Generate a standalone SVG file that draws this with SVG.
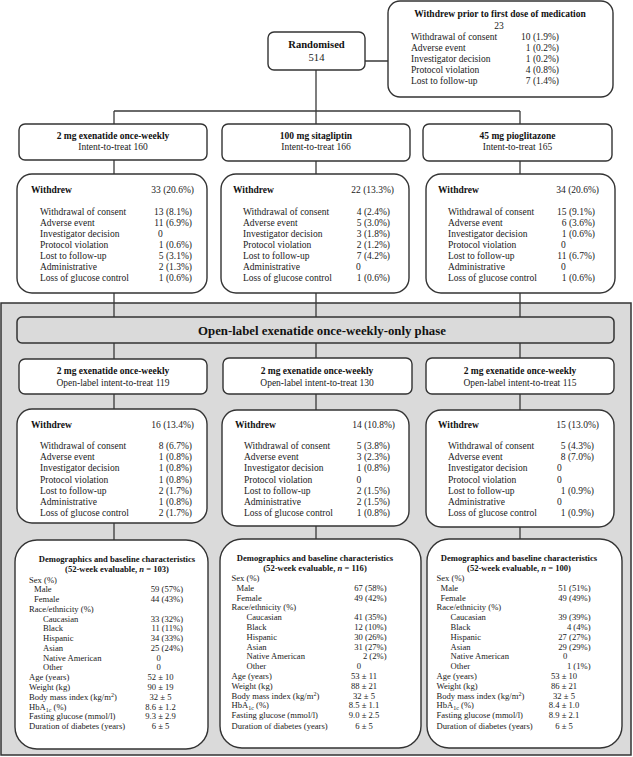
<svg xmlns="http://www.w3.org/2000/svg" width="633" height="757" viewBox="0 0 633 757">
<style>
.bx{fill:#fff;stroke:#333;stroke-width:1.4}
.gr{fill:#dadada;stroke:#333;stroke-width:1.5}
.ln{stroke:#3a3a3a;stroke-width:1.3;fill:none}
text{font-family:"Liberation Serif","Times New Roman",serif;font-size:9.5px;fill:#1a1a1a}
.bd{font-weight:bold;fill:#111}
.d{font-size:8.6px}
.m{text-anchor:middle}
.e{text-anchor:end}
.ban{font-size:12.8px}
</style>
<rect width="633" height="757" fill="#fff"/>
<rect class="gr" x="1" y="303" width="630" height="452"/>
<g id="connectors">
<path class="ln" d="M365 61H388M316 70V124M114 111H520M114 111V124M520 111V124M114 160V174M316 161V174M520 161V174M114 293V317M316 293V317M520 293V317M114 343V359M316 343V358M520 343V358M114 394V409M316 394V410M520 394V410M114 523V540M316 526V539M520 527V539"/>
</g>
<g id="randomised">
<rect class="bx" x="268" y="32" width="97" height="38" rx="6"/>
<text class="bd m" x="316.5" y="48" style="font-size:10.6px">Randomised</text>
<text class="m" x="316.5" y="61" style="font-size:10.6px">514</text>
</g>
<g id="withdrew-prior">
<rect class="bx" x="388" y="1" width="225" height="96" rx="12"/>
<text class="bd m" x="500" y="17">Withdrew prior to first dose of medication</text>
<text class="m" x="499" y="29">23</text>
<text x="411" y="40">Withdrawal of consent</text><text class="e" x="559" y="40">10 (1.9%)</text>
<text x="411" y="51">Adverse event</text><text class="e" x="559" y="51">1 (0.2%)</text>
<text x="411" y="62">Investigator decision</text><text class="e" x="559" y="62">1 (0.2%)</text>
<text x="411" y="73">Protocol violation</text><text class="e" x="559" y="73">4 (0.8%)</text>
<text x="411" y="84">Lost to follow-up</text><text class="e" x="559" y="84">7 (1.4%)</text>
</g>
<g id="arm1">
<rect class="bx" x="19" y="124" width="188" height="36" rx="6"/>
<text class="bd m" x="113" y="138.5">2 mg exenatide once-weekly</text>
<text class="m" x="113" y="150">Intent-to-treat 160</text>
</g>
<g id="arm2">
<rect class="bx" x="222" y="124" width="188" height="37" rx="6"/>
<text class="bd m" x="316" y="138.5">100 mg sitagliptin</text>
<text class="m" x="316" y="150">Intent-to-treat 166</text>
</g>
<g id="arm3">
<rect class="bx" x="423" y="124" width="189" height="37" rx="6"/>
<text class="bd m" x="517.5" y="138.5">45 mg pioglitazone</text>
<text class="m" x="517.5" y="150">Intent-to-treat 165</text>
</g>
<g id="withdrew1">
<rect class="bx" x="17" y="174" width="190" height="119" rx="15"/>
<text class="bd" x="31" y="192.5">Withdrew</text><text class="e" x="194" y="192.5">33 (20.6%)</text>
<text x="40" y="215">Withdrawal of consent</text><text class="e" x="192" y="215">13 (8.1%)</text>
<text x="40" y="226">Adverse event</text><text class="e" x="192" y="226">11 (6.9%)</text>
<text x="40" y="237">Investigator decision</text><text x="158" y="237">0</text>
<text x="40" y="248">Protocol violation</text><text class="e" x="192" y="248">1 (0.6%)</text>
<text x="40" y="259">Lost to follow-up</text><text class="e" x="192" y="259">5 (3.1%)</text>
<text x="40" y="270">Administrative</text><text class="e" x="192" y="270">2 (1.3%)</text>
<text x="40" y="281.3">Loss of glucose control</text><text class="e" x="192" y="281.3">1 (0.6%)</text>
</g>
<g id="withdrew2">
<rect class="bx" x="221" y="174" width="188" height="119" rx="15"/>
<text class="bd" x="233" y="192.5">Withdrew</text><text class="e" x="394" y="192.5">22 (13.3%)</text>
<text x="243" y="215">Withdrawal of consent</text><text class="e" x="390" y="215">4 (2.4%)</text>
<text x="243" y="226">Adverse event</text><text class="e" x="390" y="226">5 (3.0%)</text>
<text x="243" y="237">Investigator decision</text><text class="e" x="390" y="237">3 (1.8%)</text>
<text x="243" y="248">Protocol violation</text><text class="e" x="390" y="248">2 (1.2%)</text>
<text x="243" y="259">Lost to follow-up</text><text class="e" x="390" y="259">7 (4.2%)</text>
<text x="243" y="270">Administrative</text><text x="356" y="270">0</text>
<text x="243" y="281.3">Loss of glucose control</text><text class="e" x="390" y="281.3">1 (0.6%)</text>
</g>
<g id="withdrew3">
<rect class="bx" x="426" y="174" width="189" height="119" rx="15"/>
<text class="bd" x="438" y="192.5">Withdrew</text><text class="e" x="599" y="192.5">34 (20.6%)</text>
<text x="448" y="215">Withdrawal of consent</text><text class="e" x="595" y="215">15 (9.1%)</text>
<text x="448" y="226">Adverse event</text><text class="e" x="595" y="226">6 (3.6%)</text>
<text x="448" y="237">Investigator decision</text><text class="e" x="595" y="237">1 (0.6%)</text>
<text x="448" y="248">Protocol violation</text><text x="561" y="248">0</text>
<text x="448" y="259">Lost to follow-up</text><text class="e" x="595" y="259">11 (6.7%)</text>
<text x="448" y="270">Administrative</text><text x="561" y="270">0</text>
<text x="448" y="281.3">Loss of glucose control</text><text class="e" x="595" y="281.3">1 (0.6%)</text>
</g>
<g id="phase-banner">
<rect class="gr" x="17" y="317" width="597" height="26" rx="5"/>
<text class="bd m ban" x="322" y="334.5">Open-label exenatide once-weekly-only phase</text>
</g>
<g id="ol-arm1">
<rect class="bx" x="19" y="359" width="188" height="35" rx="6"/>
<text class="bd m" x="113" y="373.5">2 mg exenatide once-weekly</text>
<text class="m" x="113" y="385.5">Open-label intent-to-treat 119</text>
</g>
<g id="ol-arm2">
<rect class="bx" x="223" y="358" width="189" height="36" rx="6"/>
<text class="bd m" x="317" y="373.5">2 mg exenatide once-weekly</text>
<text class="m" x="317" y="385.5">Open-label intent-to-treat 130</text>
</g>
<g id="ol-arm3">
<rect class="bx" x="426" y="358" width="188" height="36" rx="6"/>
<text class="bd m" x="520" y="373.5">2 mg exenatide once-weekly</text>
<text class="m" x="520" y="385.5">Open-label intent-to-treat 115</text>
</g>
<g id="ol-withdrew1">
<rect class="bx" x="17" y="409" width="190" height="114" rx="15"/>
<text class="bd" x="31" y="427.5">Withdrew</text><text class="e" x="194" y="427.5">16 (13.4%)</text>
<text x="40" y="449">Withdrawal of consent</text><text class="e" x="192" y="449">8 (6.7%)</text>
<text x="40" y="460.2">Adverse event</text><text class="e" x="192" y="460.2">1 (0.8%)</text>
<text x="40" y="471.4">Investigator decision</text><text class="e" x="192" y="471.4">1 (0.8%)</text>
<text x="40" y="482.6">Protocol violation</text><text class="e" x="192" y="482.6">1 (0.8%)</text>
<text x="40" y="493.8">Lost to follow-up</text><text class="e" x="192" y="493.8">2 (1.7%)</text>
<text x="40" y="505">Administrative</text><text class="e" x="192" y="505">1 (0.8%)</text>
<text x="40" y="516.2">Loss of glucose control</text><text class="e" x="192" y="516.2">2 (1.7%)</text>
</g>
<g id="ol-withdrew2">
<rect class="bx" x="222" y="410" width="187" height="116" rx="15"/>
<text class="bd" x="235" y="427.5">Withdrew</text><text class="e" x="395" y="427.5">14 (10.8%)</text>
<text x="244" y="449">Withdrawal of consent</text><text class="e" x="390" y="449">5 (3.8%)</text>
<text x="244" y="460.2">Adverse event</text><text class="e" x="390" y="460.2">3 (2.3%)</text>
<text x="244" y="471.4">Investigator decision</text><text class="e" x="390" y="471.4">1 (0.8%)</text>
<text x="244" y="482.6">Protocol violation</text><text x="356.5" y="482.6">0</text>
<text x="244" y="493.8">Lost to follow-up</text><text class="e" x="390" y="493.8">2 (1.5%)</text>
<text x="244" y="505">Administrative</text><text class="e" x="390" y="505">2 (1.5%)</text>
<text x="244" y="516.2">Loss of glucose control</text><text class="e" x="390" y="516.2">1 (0.8%)</text>
</g>
<g id="ol-withdrew3">
<rect class="bx" x="426" y="410" width="188" height="117" rx="15"/>
<text class="bd" x="438" y="427.5">Withdrew</text><text class="e" x="599" y="427.5">15 (13.0%)</text>
<text x="448" y="449">Withdrawal of consent</text><text class="e" x="594" y="449">5 (4.3%)</text>
<text x="448" y="460.2">Adverse event</text><text class="e" x="594" y="460.2">8 (7.0%)</text>
<text x="448" y="471.4">Investigator decision</text><text x="557" y="471.4">0</text>
<text x="448" y="482.6">Protocol violation</text><text x="557" y="482.6">0</text>
<text x="448" y="493.8">Lost to follow-up</text><text class="e" x="594" y="493.8">1 (0.9%)</text>
<text x="448" y="505">Administrative</text><text x="557" y="505">0</text>
<text x="448" y="516.2">Loss of glucose control</text><text class="e" x="594" y="516.2">1 (0.9%)</text>
</g>
<g id="demo1">
<rect class="bx" x="15" y="540" width="193" height="209" rx="22"/>
<text class="bd m d" x="117" y="562">Demographics and baseline characteristics</text>
<text class="bd m d" x="117" y="572">(52-week evaluable,  <tspan font-style="italic">n</tspan> = 103)</text>
<text class="d" x="29" y="582.5">Sex (%)</text>
<text class="d" x="34" y="592.3">Male</text><text class="d e" x="183" y="592.3">59 (57%)</text>
<text class="d" x="34" y="602">Female</text><text class="d e" x="183" y="602">44 (43%)</text>
<text class="d" x="29" y="611.8">Race/ethnicity (%)</text>
<text class="d" x="43" y="621.6">Caucasian</text><text class="d e" x="183" y="621.6">33 (32%)</text>
<text class="d" x="43" y="631.4">Black</text><text class="d e" x="183" y="631.4">11 (11%)</text>
<text class="d" x="43" y="641.1">Hispanic</text><text class="d e" x="183" y="641.1">34 (33%)</text>
<text class="d" x="43" y="650.9">Asian</text><text class="d e" x="183" y="650.9">25 (24%)</text>
<text class="d" x="43" y="660.7">Native American</text><text class="d" x="156.5" y="660.7">0</text>
<text class="d" x="43" y="670.4">Other</text><text class="d" x="156.5" y="670.4">0</text>
<text class="d" x="29" y="680.2">Age (years)</text><text class="d m" x="160.5" y="680.2">52 ± 10</text>
<text class="d" x="29" y="690">Weight (kg)</text><text class="d m" x="160.5" y="690">90 ± 19</text>
<text class="d" x="29" y="699.7">Body mass index (kg/m<tspan dy="-3" font-size="6px">2</tspan><tspan dy="3">)</tspan></text><text class="d m" x="160.5" y="699.7">32 ± 5</text>
<text class="d" x="29" y="709.5">HbA<tspan dy="2" font-size="6px">1c</tspan><tspan dy="-2"> (%)</tspan></text><text class="d m" x="160.5" y="709.5">8.6 ± 1.2</text>
<text class="d" x="29" y="719.3">Fasting glucose (mmol/l)</text><text class="d m" x="160.5" y="719.3">9.3 ± 2.9</text>
<text class="d" x="29" y="729">Duration of diabetes (years)</text><text class="d m" x="160.5" y="729">6 ± 5</text>
</g>
<g id="demo2">
<rect class="bx" x="220" y="539" width="201" height="209" rx="22"/>
<text class="bd m d" x="315" y="561">Demographics and baseline characteristics</text>
<text class="bd m d" x="315" y="571">(52-week evaluable, <tspan font-style="italic">n</tspan> = 116)</text>
<text class="d" x="231.5" y="581">Sex (%)</text>
<text class="d" x="236.5" y="590.8">Male</text><text class="d e" x="386.5" y="590.8">67 (58%)</text>
<text class="d" x="236.5" y="600.6">Female</text><text class="d e" x="386.5" y="600.6">49 (42%)</text>
<text class="d" x="231.5" y="610.4">Race/ethnicity (%)</text>
<text class="d" x="246.5" y="620.2">Caucasian</text><text class="d e" x="386.5" y="620.2">41 (35%)</text>
<text class="d" x="246.5" y="630">Black</text><text class="d e" x="386.5" y="630">12 (10%)</text>
<text class="d" x="246.5" y="639.8">Hispanic</text><text class="d e" x="386.5" y="639.8">30 (26%)</text>
<text class="d" x="246.5" y="649.6">Asian</text><text class="d e" x="386.5" y="649.6">31 (27%)</text>
<text class="d" x="246.5" y="659.4">Native American</text><text class="d e" x="386.5" y="659.4">2 (2%)</text>
<text class="d" x="246.5" y="669.2">Other</text><text class="d" x="356.7" y="669.2">0</text>
<text class="d" x="231.5" y="679">Age (years)</text><text class="d m" x="364" y="679">53 ± 11</text>
<text class="d" x="231.5" y="688.8">Weight (kg)</text><text class="d m" x="364" y="688.8">88 ± 21</text>
<text class="d" x="231.5" y="698.6">Body mass index (kg/m<tspan dy="-3" font-size="6px">2</tspan><tspan dy="3">)</tspan></text><text class="d m" x="364" y="698.6">32 ± 5</text>
<text class="d" x="231.5" y="708.4">HbA<tspan dy="2" font-size="6px">1c</tspan><tspan dy="-2"> (%)</tspan></text><text class="d m" x="364" y="708.4">8.5 ± 1.1</text>
<text class="d" x="231.5" y="718.2">Fasting glucose (mmol/l)</text><text class="d m" x="364" y="718.2">9.0 ± 2.5</text>
<text class="d" x="231.5" y="728.5">Duration of diabetes (years)</text><text class="d m" x="364" y="728.5">6 ± 5</text>
</g>
<g id="demo3">
<rect class="bx" x="427" y="539" width="195" height="209" rx="22"/>
<text class="bd m d" x="519" y="561">Demographics and baseline characteristics</text>
<text class="bd m d" x="519" y="571">(52-week evaluable, <tspan font-style="italic">n</tspan> = 100)</text>
<text class="d" x="436.5" y="581">Sex (%)</text>
<text class="d" x="440.5" y="590.8">Male</text><text class="d e" x="590.5" y="590.8">51 (51%)</text>
<text class="d" x="440.5" y="600.6">Female</text><text class="d e" x="590.5" y="600.6">49 (49%)</text>
<text class="d" x="436.5" y="610.4">Race/ethnicity (%)</text>
<text class="d" x="450.5" y="620.2">Caucasian</text><text class="d e" x="590.5" y="620.2">39 (39%)</text>
<text class="d" x="450.5" y="630">Black</text><text class="d e" x="590.5" y="630">4 (4%)</text>
<text class="d" x="450.5" y="639.8">Hispanic</text><text class="d e" x="590.5" y="639.8">27 (27%)</text>
<text class="d" x="450.5" y="649.6">Asian</text><text class="d e" x="590.5" y="649.6">29 (29%)</text>
<text class="d" x="450.5" y="659.4">Native American</text><text class="d" x="563" y="659.4">0</text>
<text class="d" x="450.5" y="669.2">Other</text><text class="d e" x="590.5" y="669.2">1 (1%)</text>
<text class="d" x="436.5" y="679">Age (years)</text><text class="d m" x="564" y="679">53 ± 10</text>
<text class="d" x="436.5" y="688.8">Weight (kg)</text><text class="d m" x="564" y="688.8">86 ± 21</text>
<text class="d" x="436.5" y="698.6">Body mass index (kg/m<tspan dy="-3" font-size="6px">2</tspan><tspan dy="3">)</tspan></text><text class="d m" x="564" y="698.6">32 ± 5</text>
<text class="d" x="436.5" y="708.4">HbA<tspan dy="2" font-size="6px">1c</tspan><tspan dy="-2"> (%)</tspan></text><text class="d m" x="564" y="708.4">8.4 ± 1.0</text>
<text class="d" x="436.5" y="718.2">Fasting glucose (mmol/l)</text><text class="d m" x="564" y="718.2">8.9 ± 2.1</text>
<text class="d" x="436.5" y="728.5">Duration of diabetes (years)</text><text class="d m" x="564" y="728.5">6 ± 5</text>
</g>
</svg>
